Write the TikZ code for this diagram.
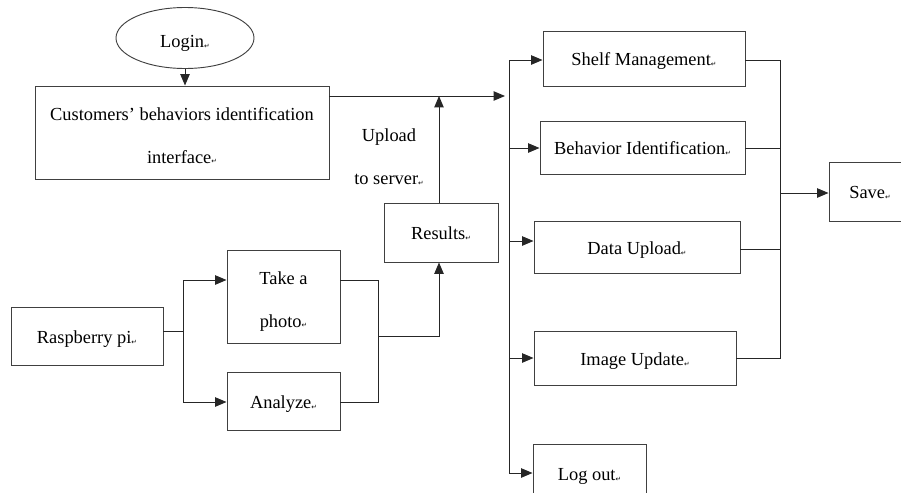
\documentclass[tikz,border=0pt]{standalone}
\usepackage{fontspec}
\setmainfont{Liberation Serif}
\newfontfamily\markfont{DejaVu Sans}
\usetikzlibrary{shapes.geometric,arrows.meta}
\newcommand{\retmk}{{\markfont\fontsize{5}{5}\selectfont\raisebox{-0.2ex}{↵}}}
\tikzset{
  box/.style={draw=black!75, line width=0.7pt, rectangle, inner sep=0pt, align=center,
    font=\fontsize{13.8}{32}\selectfont, text height=11pt, text depth=0pt},
  twoline/.style={text height=#1, text depth=0pt},
  oval/.style={draw=black!75, line width=0.7pt, ellipse, inner sep=0pt, align=center,
    font=\fontsize{13.8}{32}\selectfont, text height=14pt, text depth=0pt},
  lbl/.style={inner sep=0pt, align=center, font=\fontsize{13.8}{32}\selectfont},
  wire/.style={draw=black!85, line width=0.75pt},
  arr/.style={wire, -{Triangle[length=8.5pt,width=7pt]}},
}
\begin{document}
\begin{tikzpicture}[x=0.75pt,y=-0.75pt]
\useasboundingbox (0,0) rectangle (901,493);
% nodes
\node[oval, minimum width=103.5pt, minimum height=45.75pt] (login) at (185,38) {Login\retmk};
\node[box, twoline=46pt, minimum width=220.5pt, minimum height=69.75pt] (cust) at (182,132.5) {Customers' behaviors identification\\interface\retmk};
\node[box, twoline=46pt, minimum width=84.75pt, minimum height=69.75pt] (take) at (283.5,296.5) {Take a\\photo\retmk};
\node[box, minimum width=84.75pt, minimum height=43.5pt] (analyze) at (283.5,401) {Analyze\retmk};
\node[box, minimum width=114pt, minimum height=43.5pt] (rasp) at (87,336) {Raspberry pi\retmk};
\node[box, minimum width=85.5pt, minimum height=44.25pt] (results) at (441,232.5) {Results\retmk};
\node[lbl] (upload) at (389,157) {Upload\\to server\retmk};
\node[box, minimum width=151.5pt, minimum height=41.25pt] (shelf) at (644,58.5) {Shelf Management\retmk};
\node[box, minimum width=153.75pt, minimum height=39.75pt] (behav) at (642.5,147.5) {Behavior Identification\retmk};
\node[box, minimum width=154.5pt, minimum height=39pt] (data) at (637,247) {Data Upload\retmk};
\node[box, minimum width=151.5pt, minimum height=40.5pt] (image) at (635,358) {Image Update\retmk};
\node[box, minimum width=84.75pt, minimum height=43.5pt] (logout) at (589.5,473) {Log out\retmk};
\node[box, minimum width=61.5pt, minimum height=44.25pt] (save) at (870,191.5) {Save\retmk};
% junction coordinates
\coordinate (j1) at (509,96);
\coordinate (btop) at (509,60);
\coordinate (bbot) at (509,473);
\coordinate (rtop) at (780,60);
\coordinate (rbot) at (780,358);
\coordinate (rmid) at (780,193);
\coordinate (lsplit) at (183,331);
\coordinate (mtop) at (378,280);
\coordinate (mbot) at (378,402);
\coordinate (mmid) at (378,336);
% connectors
\draw[arr] (login.south) -- (login.south |- cust.north);
\draw[arr] (cust.east |- j1) -- ([xshift=-3pt]j1);
\draw[wire] (btop) -- (bbot);
\draw[arr] (results.north -| 439,0) -- (439,96);
\draw[arr] (btop) -- (shelf.west |- btop);
\draw[arr] (509,148) -- (behav.west |- 0,148);
\draw[arr] (509,241) -- (data.west |- 0,241);
\draw[arr] (509,358) -- (image.west |- 0,358);
\draw[arr] (bbot) -- (logout.west |- bbot);
\draw[wire] (shelf.east |- rtop) -- (rtop) -- (rbot) -- (image.east |- rbot);
\draw[wire] (behav.east |- 0,148) -- (780,148);
\draw[wire] (data.east |- 0,249) -- (780,249);
\draw[arr] (rmid) -- (save.west |- rmid);
\draw[wire] (rasp.east |- lsplit) -- (lsplit);
\draw[wire] (183,280) -- (183,402);
\draw[arr] (183,280) -- (take.west |- mtop);
\draw[arr] (183,402) -- (analyze.west |- mbot);
\draw[wire] (take.east |- mtop) -- (mtop) -- (mbot) -- (analyze.east |- mbot);
\draw[arr] (mmid) -- (439,336) -- (results.south -| 439,0);
\end{tikzpicture}
\end{document}
